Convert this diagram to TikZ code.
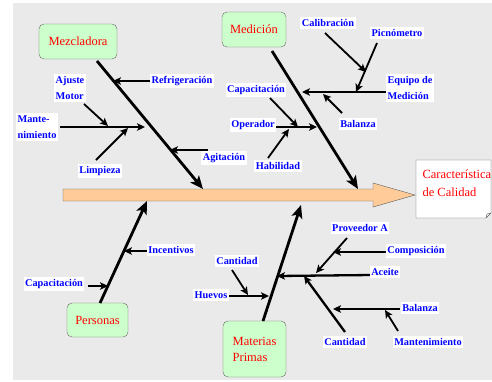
\documentclass[tikz,border=0pt]{standalone}
\usepackage{fontspec}
\setmainfont{Liberation Serif}
\usetikzlibrary{positioning}
\usetikzlibrary{arrows.meta}
\definecolor{bggray}{RGB}{234,234,234}
\definecolor{boxgreen}{RGB}{204,255,204}
\definecolor{spinefill}{RGB}{255,204,153}
\definecolor{causeblue}{RGB}{0,0,255}
\definecolor{catred}{RGB}{255,0,0}
\tikzset{
    catbox/.style = {rectangle, rounded corners=5pt, draw=gray!80!black, fill=boxgreen, text=catred, font=\fontsize{12.5}{16}\selectfont, align=left},
    cause/.style = {rectangle, fill=white, text=causeblue, inner xsep=1.5pt, inner ysep=2.5pt, font=\fontsize{10.3}{16}\selectfont\bfseries, align=left},
    bone/.style = {-{Stealth[length=13pt,width=11pt,inset=3pt]}, line width=2.8pt},
    rib/.style = {-{Stealth[length=8pt,width=7.5pt,inset=2pt]}, line width=1.8pt},
    ribw/.style = {-{Stealth[length=8pt,width=7.5pt,inset=2pt]}, line width=2.3pt}, % horizontal sub-bones
}

\begin{document}
\begin{tikzpicture}[x=1pt,y=-1pt]
\useasboundingbox (0,0) rectangle (492,381);
\fill[bggray] (13,3) rectangle (492,380);
% spine and effect
\filldraw[fill=spinefill, draw=gray!70!black, thin] (63,189) -- (373,189) -- (373,183) -- (415,195) -- (373,207) -- (373,201) -- (63,201) -- cycle;
\filldraw[fill=white, draw=gray!70!black, thin] (416,160) -- (491,160) -- (491,213) -- (486,218) -- (416,218) -- cycle;
\draw[gray!70!black, thin] (486,218) -- (487,214) -- (491,213);
\node[anchor=west, text=catred, font=\fontsize{12.5}{18}\selectfont, align=left] at (419,183) (efecto) {Característica\\de Calidad};
%
\node[catbox, minimum width=78pt, minimum height=35pt] at (78,41.5) (mezcladora) {Mezcladora};
\node[catbox, minimum width=64pt, minimum height=35pt] at (254,29.5) (medicion) {Medición};
\node[catbox, minimum width=61pt, minimum height=34pt] at (97.5,320) (personas) {Personas};
\node[catbox, minimum width=63pt, minimum height=56pt] at (254.5,349) (materias) {Materias\\Primas};
%
\coordinate (m0) at (97,61);    \coordinate (m1) at (203,189);
\coordinate (d0) at (272,51);   \coordinate (d1) at (358,189);
\coordinate (p0) at (100,303);  \coordinate (p1) at (147,201);
\coordinate (q0) at (263,321);  \coordinate (q1) at (301,205);
\draw[bone] (m0) -- (m1);
\draw[bone] (d0) -- (d1);
\draw[bone] (p0) -- (p1);
\draw[bone] (q0) -- (q1);
% Mezcladora
\coordinate (ma) at (150,81);  \coordinate (mb) at (113,81);
\coordinate (mc) at (60,127);  \coordinate (md) at (145,127);
\coordinate (me) at (84,104);  \coordinate (mf) at (108,126);
\coordinate (mg) at (96,160);  \coordinate (mh) at (128,128);
\coordinate (mi) at (208,150); \coordinate (mj) at (170,150);
\draw[rib] (ma) -- (mb);
\draw[ribw] (mc) -- (md);
\draw[rib] (me) -- (mf);
\draw[rib] (mg) -- (mh);
\draw[rib] (mi) -- (mj);
\node[cause] at (182,81) (refrig) {Refrigeración};
\node[cause] at (70,88) (ajuste) {Ajuste\\Motor};
\node[cause] at (37,127) (mante1) {Mante-\\nimiento};
\node[cause] at (100,171) (limpieza) {Limpieza};
\node[cause] at (224,158) (agitacion) {Agitación};
% Medicion
\coordinate (da) at (386,92);  \coordinate (db) at (302,92);
\coordinate (dc) at (325,33);  \coordinate (dd) at (366,72);
\coordinate (de) at (377,43);  \coordinate (df) at (356,92);
\coordinate (dg) at (342,113); \coordinate (dh) at (323,94);
\coordinate (di) at (270,98);  \coordinate (dj) at (298,127);
\coordinate (dk) at (274,127); \coordinate (dl) at (317,127);
\coordinate (dm) at (268,158); \coordinate (dn) at (289,129);
\draw[ribw] (da) -- (db);
\draw[rib] (dc) -- (dd);
\draw[rib] (de) -- (df);
\draw[rib] (dg) -- (dh);
\draw[rib] (di) -- (dj);
\draw[ribw] (dk) -- (dl);
\draw[rib] (dm) -- (dn);
\node[cause] at (328,23) (calib) {Calibración};
\node[cause] at (397,33) (picno) {Picnómetro};
\node[cause] at (410,88) (equipo) {Equipo de\\Medición};
\node[cause] at (256,90) (capac1) {Capacitación};
\node[cause] at (358,124) (balanza1) {Balanza};
\node[cause] at (253,125) (operador) {Operador};
\node[cause] at (278,166) (habilidad) {Habilidad};
% Personas
\coordinate (pa) at (148,251); \coordinate (pb) at (124,251);
\coordinate (pc) at (88,286);  \coordinate (pd) at (108,286);
\draw[rib] (pa) -- (pb);
\draw[rib] (pc) -- (pd);
\node[cause] at (171,250) (incent) {Incentivos};
\node[cause] at (54,284) (capac2) {Capacitación};
% Materias Primas
\coordinate (qa) at (229,296); \coordinate (qb) at (269,296);
\coordinate (qc) at (232,270); \coordinate (qd) at (248,295);
\coordinate (qe) at (371,275); \coordinate (qf) at (277,276);
\coordinate (qg) at (347,238); \coordinate (qh) at (316,273);
\coordinate (qi) at (386,252); \coordinate (qj) at (333,252);
\coordinate (qk) at (345,332); \coordinate (ql) at (304,276);
\coordinate (qm) at (400,309); \coordinate (qn) at (333,309);
\coordinate (qo) at (398,331); \coordinate (qp) at (385,310);
\draw[ribw] (qa) -- (qb);
\draw[rib] (qc) -- (qd);
\draw[ribw] (qe) -- (qf);
\draw[rib] (qg) -- (qh);
\draw[rib] (qi) -- (qj);
\draw[ribw] (qk) -- (ql);
\draw[rib] (qm) -- (qn);
\draw[rib] (qo) -- (qp);
\node[cause] at (211,295) (huevos) {Huevos};
\node[cause] at (237,261) (cant1) {Cantidad};
\node[cause] at (360,228) (proveedor) {Proveedor A};
\node[cause] at (416,251) (compos) {Composición};
\node[cause] at (385,272) (aceite) {Aceite};
\node[cause] at (420,308) (balanza2) {Balanza};
\node[cause] at (345,342) (cant2) {Cantidad};
\node[cause] at (428,342) (mante2) {Mantenimiento};

\end{tikzpicture}
\end{document}
